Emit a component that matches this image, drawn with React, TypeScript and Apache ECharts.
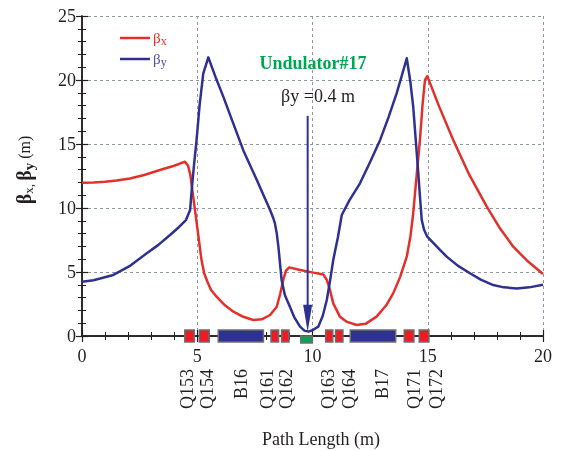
import React, { useEffect, useRef } from 'react';
import * as echarts from 'echarts';

const RED = '#e2302a';
const BLUE = '#2e3192';
const GREEN = '#00a651';
const INK = '#231f20';
const GRID = '#8c96a5';
const SERIF = '"Liberation Serif", "Times New Roman", serif';

const xTicks = [0, 5, 10, 15, 20];
const yTicks = [0, 5, 10, 15, 20, 25];

const betaX: [number, number][] = [
  [0, 11.98], [0.5, 12.0], [1, 12.06], [1.5, 12.15], [2.08, 12.3], [2.7, 12.58], [3.38, 12.97],
  [4.0, 13.3], [4.47, 13.62],
  [4.6, 13.3], [4.7, 12.6], [4.8, 11.2], [4.92, 9.6], [5.05, 7.8], [5.18, 6.0],
  [5.3, 4.9], [5.45, 4.2], [5.6, 3.6], [5.84, 3.07], [6.2, 2.4], [6.57, 1.9],
  [7.0, 1.5], [7.43, 1.25], [7.8, 1.3], [8.16, 1.64], [8.45, 2.29], [8.6, 3.3],
  [8.73, 4.38], [8.85, 5.1], [8.99, 5.36], [9.46, 5.15], [10.04, 4.95], [10.47, 4.8],
  [10.62, 4.38], [10.76, 3.6], [10.9, 2.55], [11.19, 1.51], [11.5, 1.1], [11.92, 0.86],
  [12.3, 0.95], [12.78, 1.51], [13.2, 2.4], [13.5, 3.33], [13.8, 4.6], [14.09, 6.2],
  [14.25, 7.8], [14.37, 9.59], [14.5, 12.2], [14.66, 15.3], [14.78, 18.2], [14.88, 20.0],
  [14.98, 20.3], [15.5, 17.9], [16.11, 15.3], [16.8, 12.6], [17.56, 10.1], [18.1, 8.5],
  [18.71, 6.98], [19.3, 5.9], [20, 4.85],
];

const betaY: [number, number][] = [
  [0, 4.24], [0.5, 4.35], [1.36, 4.77], [2.1, 5.5], [2.81, 6.46], [3.3, 7.1],
  [3.82, 7.89], [4.2, 8.5], [4.51, 9.06], [4.69, 9.84], [4.76, 11.4], [4.85, 13.2],
  [4.97, 15.3], [5.1, 18.0], [5.26, 20.5], [5.48, 21.77], [5.8, 20.2], [6.13, 18.7],
  [6.5, 16.9], [7.0, 14.5], [7.58, 12.2], [7.9, 10.9], [8.16, 9.84], [8.3, 9.2],
  [8.37, 8.8], [8.45, 8.0], [8.52, 6.98], [8.66, 4.38], [8.8, 3.2], [9.02, 2.29],
  [9.2, 1.5], [9.46, 0.73], [9.65, 0.42], [9.82, 0.34], [10.0, 0.45], [10.25, 0.73],
  [10.45, 1.6], [10.62, 2.81], [10.76, 4.3], [10.9, 5.94], [11.1, 7.7], [11.27, 9.45],
  [11.6, 10.6], [12.06, 11.93], [12.5, 13.6], [12.93, 15.3], [13.3, 17.1], [13.65, 18.96],
  [13.9, 20.5], [14.09, 21.7], [14.25, 19.8], [14.37, 17.9], [14.48, 15.3], [14.59, 12.7],
  [14.67, 10.7], [14.74, 9.06], [14.84, 8.3], [14.98, 7.76], [15.53, 6.72], [15.82, 6.2],
  [16.3, 5.5], [16.83, 4.9], [17.3, 4.4], [17.84, 3.98], [18.3, 3.8], [18.86, 3.72],
  [19.4, 3.8], [20, 4.0],
];

const elementStart = [4.46, 5.09, 5.91, 8.2, 8.66, 9.49, 10.57, 11.0, 11.64, 13.98, 14.63];
const elementEnd = [4.87, 5.52, 7.87, 8.53, 8.98, 9.99, 10.88, 11.32, 13.61, 14.4, 15.05];
const elementKind = ['Q', 'Q', 'B', 'Q', 'Q', 'U', 'Q', 'Q', 'B', 'Q', 'Q'];

const labelNames = ['Q153', 'Q154', 'B16', 'Q161', 'Q162', 'Q163', 'Q164', 'B17', 'Q171', 'Q172'];
const labelPos = [4.54, 5.41, 6.88, 8.03, 8.85, 10.67, 11.58, 13.02, 14.4, 15.35];

const arrowX = 9.79;
const arrowTop = 17.2;
const arrowTip = 0.34;

const kindColor: Record<string, string> = { Q: '#ed1c24', B: BLUE, U: GREEN };

export default function App() {
  const ref = useRef<HTMLDivElement>(null);
  useEffect(() => {
    const chart = echarts.init(ref.current!, null, { renderer: 'svg' });
    const axisLine = { show: true, lineStyle: { color: INK, width: 1.5 } };
    const axisTick = { show: true, inside: true, length: 6, lineStyle: { color: INK, width: 1.2 } };
    const minorTick = { show: true, splitNumber: 5, length: 4, lineStyle: { color: INK, width: 1 } };
    const labelStyle = { fontFamily: SERIF, fontSize: 18, color: INK };
    const option: any = {
      animation: false,
      grid: { left: 82, right: 18, top: 16, bottom: 115, containLabel: false },
      xAxis: [
        {
          type: 'value', min: xTicks[0], max: xTicks[xTicks.length - 1], interval: 5, position: 'bottom',
          axisLine, axisTick, minorTick,
          axisLabel: { ...labelStyle, margin: 11 },
          splitLine: { show: true, lineStyle: { color: GRID, width: 1, type: [3, 3] } },
        },
        {
          type: 'value', min: xTicks[0], max: xTicks[xTicks.length - 1], interval: 5, position: 'top',
          axisLine, axisTick, minorTick, axisLabel: { show: false }, splitLine: { show: false },
        },
      ],
      yAxis: [
        {
          type: 'value', min: yTicks[0], max: yTicks[yTicks.length - 1], interval: 5, position: 'left',
          axisLine, axisTick, minorTick,
          axisLabel: { ...labelStyle, margin: 6 },
          splitLine: { show: true, lineStyle: { color: GRID, width: 1, type: [3, 3] } },
        },
        {
          type: 'value', min: yTicks[0], max: yTicks[yTicks.length - 1], interval: 5, position: 'right',
          axisLine, axisTick, minorTick, axisLabel: { show: false }, splitLine: { show: false },
        },
      ],
      series: [
        {
          type: 'line', name: 'βx', data: betaX, showSymbol: false, symbol: 'none', smooth: false,
          lineStyle: { color: RED, width: 2.5, join: 'round' }, z: 3,
        },
        {
          type: 'line', name: 'βy', data: betaY, showSymbol: false, symbol: 'none', smooth: false,
          lineStyle: { color: BLUE, width: 2.5, join: 'round' }, z: 4,
        },
        {
          type: 'custom', name: 'elements', z: 6, clip: false,
          encode: { x: [0, 1], y: 2 },
          data: elementStart.map((s, i) => [s, elementEnd[i], i]),
          renderItem: (params: any, api: any) => {
            const i = api.value(2);
            const p0 = api.coord([api.value(0), 0]);
            const p1 = api.coord([api.value(1), 0]);
            const kind = elementKind[i];
            const y0 = kind === 'U' ? p0[1] : p0[1] - 6;
            const h = kind === 'U' ? 7 : 12;
            return {
              type: 'rect',
              shape: { x: p0[0], y: y0, width: p1[0] - p0[0], height: h },
              style: { fill: kindColor[kind], stroke: '#6d6e71', lineWidth: 1.5 },
            };
          },
        },
        {
          type: 'custom', name: 'labels', z: 6, clip: false,
          encode: { x: 0, y: 1 },
          data: labelPos.map((p, i) => [p, i]),
          renderItem: (params: any, api: any) => {
            const p = api.coord([api.value(0), 0]);
            return {
              type: 'text',
              x: p[0], y: p[1] + 33, rotation: Math.PI / 2,
              style: {
                text: labelNames[api.value(1)], fill: INK,
                fontFamily: SERIF, fontSize: 18, align: 'right', verticalAlign: 'middle',
              },
            };
          },
        },
        {
          type: 'custom', name: 'arrow', z: 7, clip: false,
          encode: { x: 0, y: [1, 2] },
          data: [[arrowX, arrowTop, arrowTip]],
          renderItem: (params: any, api: any) => {
            const top = api.coord([api.value(0), api.value(1)]);
            const tip = api.coord([api.value(0), api.value(2)]);
            return {
              type: 'group',
              children: [
                {
                  type: 'line',
                  shape: { x1: top[0], y1: top[1], x2: tip[0], y2: tip[1] - 20 },
                  style: { stroke: BLUE, lineWidth: 2 },
                },
                {
                  type: 'polygon',
                  shape: { points: [[tip[0] - 4.5, tip[1] - 27], [tip[0] + 4.5, tip[1] - 27], [tip[0], tip[1]]] },
                  style: { fill: BLUE },
                },
              ],
            };
          },
        },
      ],
      graphic: [
        {
          type: 'line', shape: { x1: 120, y1: 38, x2: 150, y2: 38 },
          style: { stroke: RED, lineWidth: 2.5 },
        },
        {
          type: 'text', x: 153, y: 38,
          style: {
            text: '{b|β}{s|x}', align: 'left', verticalAlign: 'middle',
            rich: {
              b: { fontFamily: SERIF, fontSize: 15, fill: RED, color: RED, lineHeight: 18, verticalAlign: 'middle' },
              s: { fontFamily: SERIF, fontSize: 12, fill: RED, color: RED, lineHeight: 18, verticalAlign: 'bottom', padding: [8, 0, 0, 0] },
            },
          },
        },
        {
          type: 'line', shape: { x1: 120, y1: 59, x2: 150, y2: 59 },
          style: { stroke: BLUE, lineWidth: 2.5 },
        },
        {
          type: 'text', x: 153, y: 59,
          style: {
            text: '{b|β}{s|y}', align: 'left', verticalAlign: 'middle',
            rich: {
              b: { fontFamily: SERIF, fontSize: 15, fill: '#4a4db0', color: '#4a4db0', lineHeight: 18, verticalAlign: 'middle' },
              s: { fontFamily: SERIF, fontSize: 12, fill: '#4a4db0', color: '#4a4db0', lineHeight: 18, verticalAlign: 'bottom', padding: [8, 0, 0, 0] },
            },
          },
        },
        {
          type: 'text', x: 313, y: 63,
          style: {
            text: 'Undulator#17', fill: GREEN, fontFamily: SERIF, fontSize: 18, fontWeight: 'bold',
            align: 'center', verticalAlign: 'middle',
          },
        },
        {
          type: 'text', x: 318, y: 96,
          style: {
            text: 'βy =0.4 m', fill: INK, fontFamily: SERIF, fontSize: 18,
            align: 'center', verticalAlign: 'middle',
          },
        },
        {
          type: 'text', x: 321, y: 439,
          style: {
            text: 'Path Length (m)', fill: INK, fontFamily: SERIF, fontSize: 18,
            align: 'center', verticalAlign: 'middle',
          },
        },
        {
          type: 'text', x: 24, y: 170, rotation: Math.PI / 2,
          style: {
            text: '{b|β}{s|x, }{b|β}{sy|y}{m| (m)}', align: 'center', verticalAlign: 'middle',
            rich: {
              b: { fontFamily: SERIF, fontSize: 20, fontWeight: 'bold', fill: INK, color: INK, lineHeight: 22 },
              s: { fontFamily: SERIF, fontSize: 13, fill: INK, color: INK, lineHeight: 22, padding: [9, 0, 0, 0] },
              sy: { fontFamily: SERIF, fontSize: 15, fontWeight: 'bold', fill: INK, color: INK, lineHeight: 22, padding: [9, 0, 0, 0] },
              m: { fontFamily: SERIF, fontSize: 16, fill: INK, color: INK, lineHeight: 22 },
            },
          },
        },
      ],
    };
    chart.setOption(option);
    return () => chart.dispose();
  }, []);
  return <div ref={ref} style={{ position: 'fixed', left: 0, top: 0, width: 561, height: 451 }} />;
}
